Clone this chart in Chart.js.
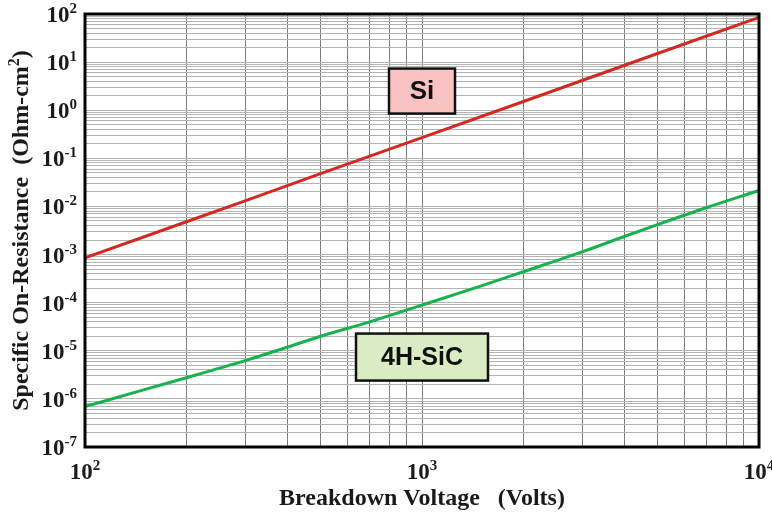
<!DOCTYPE html>
<html>
<head>
<meta charset="utf-8">
<script src="https://cdn.jsdelivr.net/npm/chart.js@4.4.1/dist/chart.umd.min.js"></script>
<style>
  html, body { margin: 0; padding: 0; background: #ffffff; }
  #wrap { width: 772px; height: 515px; position: relative; }
</style>
</head>
<body>
<div id="wrap"><canvas id="chart" width="772" height="515"></canvas></div>
<script>
// Silicon ideal drift-region limit: breakdown voltage (V) vs specific on-resistance (Ohm-cm2)
const siVoltage    = [100, 200, 300, 500, 1000, 2000, 3000, 5000, 10000];
const siResistance = [8.5e-4, 4.8e-3, 1.32e-2, 4.8e-2, 0.27, 1.52, 4.2, 15.1, 85];

// 4H-SiC ideal drift-region limit
const sicVoltage    = [100, 150, 200, 300, 400, 500, 700, 1000, 1500, 2000, 3000, 4000, 5000, 7000, 10000];
const sicResistance = [6.9e-7, 1.56e-6, 2.75e-6, 6.3e-6, 1.2e-5, 2.0e-5, 4.0e-5, 8.9e-5, 2.24e-4, 4.4e-4, 1.15e-3, 2.4e-3, 4.2e-3, 9.5e-3, 2.14e-2];

// Decade exponents used for the axis tick labels
const xTickExponents = [2, 3, 4];
const yTickExponents = [-7, -6, -5, -4, -3, -2, -1, 0, 1, 2];

// In-plot material labels, anchored in data space
const materialLabels = ['Si', '4H-SiC'];
const materialLabelVoltage = [1000, 1000];
const materialLabelResistance = [2.5, 7.4e-6];

// Styling for the material labels
const labelStyles = [
  { fill: '#f9c3c3', width: 66, height: 45, font: 'bold 26px "Liberation Sans", Arial, sans-serif' },
  { fill: '#d9ecc3', width: 132, height: 47, font: 'bold 25px "Liberation Sans", Arial, sans-serif' }
];

const SERIF = '"Liberation Serif", "Times New Roman", serif';

function toPoints(xs, ys) {
  return xs.map((x, i) => ({ x: x, y: ys[i] }));
}

// Log grid: 1..9 x 10^n inside each decade
function logGridTicks(scale) {
  const ticks = [];
  const lo = Math.round(Math.log10(scale.min));
  const hi = Math.round(Math.log10(scale.max));
  for (let e = lo; e <= hi; e++) {
    for (let m = 1; m <= 9; m++) {
      if (e === hi && m > 1) break;
      ticks.push({ value: m * Math.pow(10, e), major: m === 1 });
    }
  }
  scale.ticks = ticks;
}

// Draw a run of text pieces along one baseline
function drawRuns(ctx, runs, x, y, align) {
  let total = 0;
  runs.forEach(r => { ctx.font = r.font; r.w = ctx.measureText(r.text).width; total += r.w; });
  let cx = align === 'right' ? x - total : align === 'center' ? x - total / 2 : x;
  ctx.textAlign = 'left';
  ctx.textBaseline = 'alphabetic';
  runs.forEach(r => {
    ctx.font = r.font;
    ctx.fillText(r.text, cx, y + (r.dy || 0));
    cx += r.w;
  });
}

function powerRuns(exp) {
  return [
    { text: '10', font: 'bold 23px ' + SERIF },
    { text: String(exp), font: 'bold 15px ' + SERIF, dy: -9 }
  ];
}

const overlayPlugin = {
  id: 'overlay',
  afterDatasetsDraw(chart) {
    const ctx = chart.ctx;
    const area = chart.chartArea;
    const xs = chart.scales.x;
    const ys = chart.scales.y;

    ctx.save();
    // Material label boxes
    materialLabels.forEach((txt, i) => {
      const st = labelStyles[i];
      const cx = xs.getPixelForValue(materialLabelVoltage[i]);
      const cy = ys.getPixelForValue(materialLabelResistance[i]);
      ctx.fillStyle = st.fill;
      ctx.fillRect(cx - st.width / 2, cy - st.height / 2, st.width, st.height);
      ctx.lineWidth = 2.5;
      ctx.strokeStyle = '#111111';
      ctx.strokeRect(cx - st.width / 2, cy - st.height / 2, st.width, st.height);
      ctx.fillStyle = '#111111';
      ctx.font = st.font;
      ctx.textAlign = 'center';
      ctx.textBaseline = 'middle';
      ctx.fillText(txt, cx, cy + 1);
    });

    // Plot frame
    ctx.lineWidth = 3;
    ctx.strokeStyle = '#000000';
    ctx.strokeRect(area.left, area.top, area.right - area.left, area.bottom - area.top);

    ctx.fillStyle = '#1a1a1a';
    // Y tick labels
    yTickExponents.forEach(e => {
      const py = ys.getPixelForValue(Math.pow(10, e));
      drawRuns(ctx, powerRuns(e), area.left - 8, py + 8, 'right');
    });
    // X tick labels
    xTickExponents.forEach(e => {
      const px = xs.getPixelForValue(Math.pow(10, e));
      drawRuns(ctx, powerRuns(e), px, area.bottom + 32, 'center');
    });

    // X axis title
    const titleFont = 'bold 24px ' + SERIF;
    const supFont = 'bold 16px ' + SERIF;
    drawRuns(ctx, [{ text: 'Breakdown Voltage   (Volts)', font: titleFont }],
      (area.left + area.right) / 2, area.bottom + 58, 'center');

    // Y axis title (rotated)
    ctx.save();
    ctx.translate(28, (area.top + area.bottom) / 2);
    ctx.rotate(-Math.PI / 2);
    drawRuns(ctx, [
      { text: 'Specific On-Resistance  (Ohm-cm', font: titleFont },
      { text: '2', font: supFont, dy: -9 },
      { text: ')', font: titleFont }
    ], 0, 0, 'center');
    ctx.restore();

    ctx.restore();
  }
};

new Chart(document.getElementById('chart'), {
  type: 'line',
  data: {
    datasets: [
      {
        label: 'Si',
        data: toPoints(siVoltage, siResistance),
        borderColor: '#d22a22',
        borderWidth: 3,
        pointRadius: 0,
        tension: 0,
        fill: false
      },
      {
        label: '4H-SiC',
        data: toPoints(sicVoltage, sicResistance),
        borderColor: '#17b24e',
        borderWidth: 3,
        pointRadius: 0,
        cubicInterpolationMode: 'monotone',
        fill: false
      }
    ]
  },
  options: {
    responsive: false,
    animation: false,
    devicePixelRatio: 1,
    layout: { padding: { left: 85, right: 13, top: 14, bottom: 68 } },
    plugins: {
      legend: { display: false },
      tooltip: { enabled: false },
      title: { display: false }
    },
    scales: {
      x: {
        type: 'logarithmic',
        min: 100,
        max: 10000,
        afterBuildTicks: logGridTicks,
        ticks: { display: false },
        border: { display: false },
        grid: { color: '#7d7d7d', lineWidth: 1, drawTicks: false }
      },
      y: {
        type: 'logarithmic',
        min: 1e-7,
        max: 100,
        afterBuildTicks: logGridTicks,
        ticks: { display: false },
        border: { display: false },
        grid: { color: '#b3b3b3', lineWidth: 1, drawTicks: false }
      }
    }
  },
  plugins: [overlayPlugin]
});
</script>
</body>
</html>
